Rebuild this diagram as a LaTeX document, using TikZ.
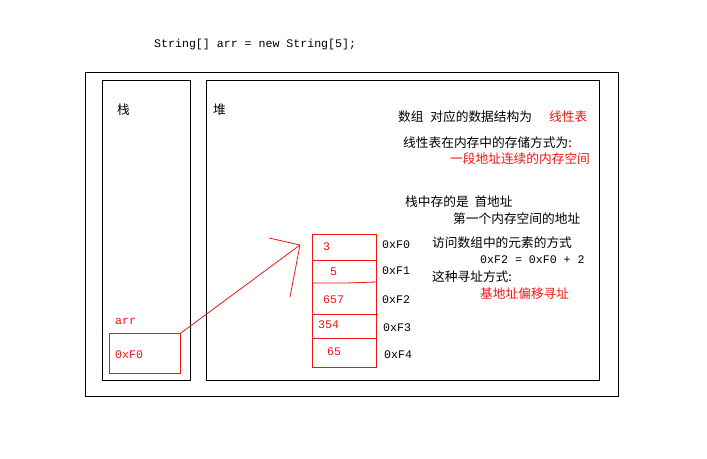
\documentclass[tikz,border=0pt]{standalone}
\usepackage{fontspec}
\newfontfamily\cjk{Noto Sans CJK SC}
\setmonofont{Liberation Mono}
\definecolor{rd}{RGB}{240,20,20}
\begin{document}
\begin{tikzpicture}[x=1pt,y=-1pt,
  blk/.style={draw=black,line width=1pt},
  rbox/.style={draw=rd,line width=0.9pt},
  zh/.style={font=\cjk\fontsize{12.7}{13}\selectfont,anchor=west,inner sep=0pt},
  zhr/.style={zh,text=rd},
  mono/.style={font=\ttfamily\fontsize{11.6}{12}\selectfont,anchor=west,inner sep=0pt},
  monor/.style={mono,text=rd},
  rline/.style={draw=rd,line width=0.8pt}]
\useasboundingbox (0,0) rectangle (707,458);
\fill[white] (0,0) rectangle (707,458);
% code line
\node[mono] (code) at (154,44) {String[] arr = new String[5];};
% boxes
\node[blk,minimum width=533,minimum height=324,inner sep=0,anchor=north west] (outer) at (85,72) {};
\node[blk,minimum width=88,minimum height=300,inner sep=0,anchor=north west] (stack) at (102,80) {};
\node[blk,minimum width=393,minimum height=300,inner sep=0,anchor=north west] (heap) at (206,80) {};
\node[zh] (zhan) at (117,110) {栈};
\node[zh] (dui) at (213,110) {堆};
% stack var
\node[monor] (arrl) at (115,321) {arr};
\node[rbox,minimum width=71,minimum height=40,inner sep=0,anchor=north west] (arrbox) at (109,333) {};
\node[monor] (arrv) at (115,355) {0xF0};
% array
\node[rbox,minimum width=64,minimum height=133,inner sep=0,anchor=north west] (arr) at (312,234) {};
\coordinate (d1a) at (312,260); \coordinate (d1b) at (376,260);
\coordinate (d2a) at (312,283); \coordinate (d2m) at (346,283); \coordinate (d2b) at (377,282);
\coordinate (d3a) at (312,314); \coordinate (d3b) at (378,314);
\coordinate (d4a) at (312,338); \coordinate (d4b) at (377,338);
\draw[rline] (d1a) -- (d1b);
\draw[rline] (d2a) -- (d2m) -- (d2b);
\draw[rline] (d3a) -- (d3b);
\draw[rline] (d4a) -- (d4b);
\node[monor] (v0) at (323,247) {3};
\node[monor] (v1) at (330,272) {5};
\node[monor] (v2) at (323,300) {657};
\node[monor] (v3) at (318,325) {354};
\node[monor] (v4) at (327,352) {65};
\node[mono] (a0) at (382,245) {0xF0};
\node[mono] (a1) at (382,271) {0xF1};
\node[mono] (a2) at (382,300) {0xF2};
\node[mono] (a3) at (383,328) {0xF3};
\node[mono] (a4) at (384,355) {0xF4};
% pointer
\coordinate (tip) at (300,245);
\coordinate (h1) at (269,238);
\coordinate (h2) at (290,297);
\draw[rline] (arrbox.north east) -- (tip);
\draw[rline] (tip) -- (h1);
\draw[rline] (tip) -- (h2);
% notes
\node[zh] (n1) at (398,117) {数组\hspace{4pt} 对应的数据结构为};
\node[zhr] (n1r) at (549,117) {线性表};
\node[zh] (n2) at (403,143) {线性表在内存中的存储方式为:};
\node[zhr] (n3) at (450,159) {一段地址连续的内存空间};
\node[zh] (n4) at (405,202) {栈中存的是\hspace{3pt} 首地址};
\node[zh] (n5) at (453,219) {第一个内存空间的地址};
\node[zh] (n6) at (432,243) {访问数组中的元素的方式};
\node[mono] (n7) at (480,260) {0xF2 = 0xF0 + 2};
\node[zh] (n8) at (432,277) {这种寻址方式:};
\node[zhr] (n9) at (480,294) {基地址偏移寻址};
\end{tikzpicture}
\end{document}
